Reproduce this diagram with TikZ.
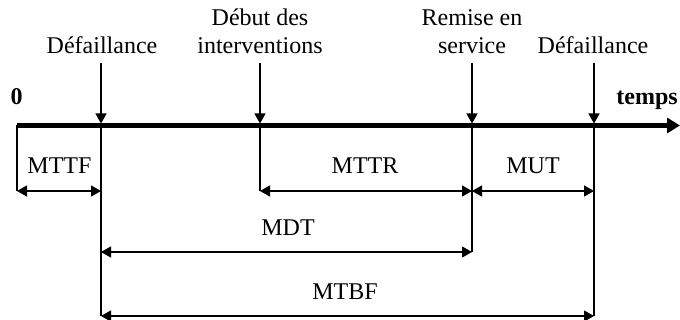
\documentclass[tikz,border=0pt]{standalone}
\usepackage{fontspec}
\setmainfont{Liberation Serif}
\usetikzlibrary{arrows.meta}
\begin{document}
\begin{tikzpicture}[x=1pt,y=-1pt,
  >={Triangle[length=10pt,width=11pt]},
  thin line/.style={line width=1.3pt},
  evt/.style={thin line,->},
  dim/.style={thin line,<->},
  lbl/.style={font=\fontsize{24}{28}\selectfont,inner sep=0pt,align=center,
    text depth=0pt,anchor=south},
  bold lbl/.style={lbl,font=\fontsize{24}{28}\selectfont\bfseries}]
\useasboundingbox (0,0) rectangle (680,320);

% time axis
\coordinate (o) at (17,125.5);
\coordinate (end) at (680,125.5);
\draw[line width=4.5pt,-{Triangle[length=13pt,width=15pt]}] (o) -- (end);
\node[bold lbl] (zero) at (16.5,105) {0};
\node[bold lbl,anchor=south east] (temps) at (678,105) {temps};

% events on the axis
\coordinate (e1) at (101,125.5);
\coordinate (e2) at (260,125.5);
\coordinate (e3) at (472,125.5);
\coordinate (e4) at (594,125.5);

\node[lbl] (l1) at (102,54) {Défaillance};
\node[lbl] (l2) at (260,54) {Début des\\interventions};
\node[lbl] (l3) at (472,54) {Remise en\\service};
\node[lbl] (l4) at (593,54) {Défaillance};

\foreach \i in {1,2,3,4}
  \draw[evt] (e\i |- 0,63) -- ([yshift=2pt]e\i);

% extension lines below the axis
\coordinate (o1) at (17,191);
\coordinate (a1) at (101,191);
\coordinate (b1) at (101,252);
\coordinate (c1) at (101,316);
\coordinate (a2) at (260,191);
\coordinate (a3) at (472,191);
\coordinate (b3) at (472,252);
\coordinate (a4) at (594,191);
\coordinate (c4) at (594,316);
\draw[thin line] (o) -- (o1);
\draw[thin line] (e1) -- (c1);
\draw[thin line] (e2) -- (a2);
\draw[thin line] (e3) -- (b3);
\draw[thin line] (e4) -- (c4);

% durations
\draw[dim] (o1) -- (a1);
\draw[dim] (a2) -- (a3);
\draw[dim] (a3) -- (a4);
\draw[dim] (b1) -- (b3);
\draw[dim] (c1) -- (c4);

\node[lbl] (mttf) at (59.5,174) {MTTF};
\node[lbl] (mttr) at (365,174) {MTTR};
\node[lbl] (mut) at (533,174) {MUT};
\node[lbl] (mdt) at (288,236) {MDT};
\node[lbl] (mtbf) at (345,300) {MTBF};
\end{tikzpicture}
\end{document}
